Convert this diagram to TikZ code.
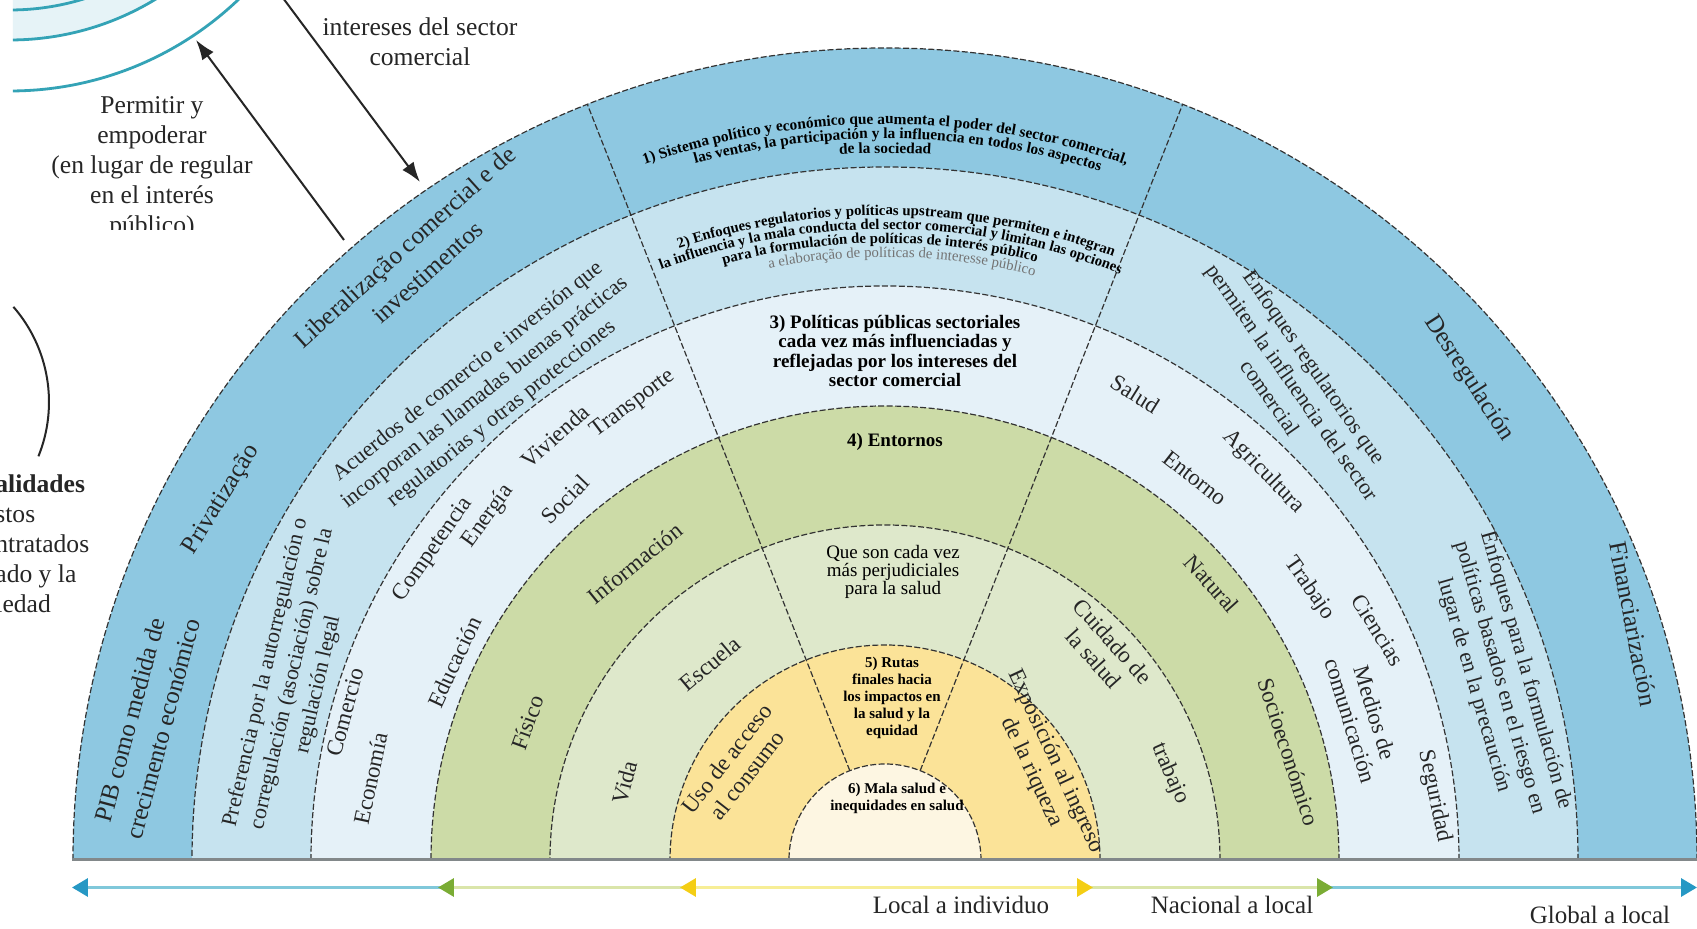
\documentclass[tikz,border=0pt]{standalone}
\usepackage{fontspec}
\setmainfont{Liberation Serif}
\usepackage{tikz}
\usetikzlibrary{arrows.meta,decorations.text}

\definecolor{ringA}{RGB}{142,200,225}
\definecolor{ringB}{RGB}{198,227,239}
\definecolor{ringC}{RGB}{229,241,248}
\definecolor{ringD}{RGB}{204,219,167}
\definecolor{ringE}{RGB}{222,232,203}
\definecolor{ringF}{RGB}{251,227,152}
\definecolor{ringG}{RGB}{253,246,226}
\definecolor{haloFill}{RGB}{230,243,247}
\definecolor{haloLine}{RGB}{52,163,182}
\definecolor{baseGray}{RGB}{130,136,138}
\definecolor{globalTip}{RGB}{38,152,196}
\definecolor{globalLine}{RGB}{128,200,218}
\definecolor{nationalTip}{RGB}{122,172,52}
\definecolor{nationalLine}{RGB}{218,229,170}
\definecolor{localTip}{RGB}{244,206,20}
\definecolor{localLine}{RGB}{247,238,150}

\tikzset{
    ring-line/.style = {draw=black!80, line width=0.6pt, dash pattern=on 3pt off 1.2pt},
    base-line/.style = {draw=baseGray, line width=1.5pt},
    halo-arc/.style = {draw=haloLine, line width=1.4pt},
    bracket-arc/.style = {draw=black!85, line width=1pt},
    push-arrow/.style = {draw=black!85, line width=1pt, -{Latex[length=10pt, width=7pt]}},
    outer-label/.style = {font=\fontsize{12.5}{17}\selectfont, align=center, inner sep=1pt, text=black!85},
    mid-label/.style = {font=\fontsize{11}{13.5}\selectfont, align=center, inner sep=1pt, text=black!85},
    ring-label/.style = {font=\fontsize{11.5}{13}\selectfont, align=center, inner sep=1pt, text=black!85},
    sector-title/.style = {font=\fontsize{9.5}{9.6}\selectfont\bfseries, align=center, inner sep=1pt},
    sector-note/.style = {font=\fontsize{9.5}{8.8}\selectfont, align=center, inner sep=1pt},
    sector-small/.style = {font=\fontsize{7.5}{8.5}\selectfont\bfseries, align=center, inner sep=1pt},
    side-text/.style = {font=\fontsize{12.8}{15}\selectfont, align=center, inner sep=0pt, text=black!85},
    scale-label/.style = {font=\fontsize{12.5}{14}\selectfont, inner sep=0pt, text=black!85},
    global-arrow/.style = {draw=globalLine, line width=1.6pt, {Triangle[length=8pt, width=9pt, color=globalTip]}-{Triangle[length=8pt, width=9pt, color=globalTip]}},
    national-arrow/.style = {draw=nationalLine, line width=1.6pt, {Triangle[length=8pt, width=9pt, color=nationalTip]}-{Triangle[length=8pt, width=9pt, color=nationalTip]}},
    local-arrow/.style = {draw=localLine, line width=1.6pt, {Triangle[length=8pt, width=9pt, color=localTip]}-{Triangle[length=8pt, width=9pt, color=localTip]}},
}

\begin{document}
\begin{tikzpicture}[x=0.5pt, y=0.5pt]
\clip (-885,-69) rectangle (812,860);
\fill[white] (-885,-69) rectangle (812,860);

% what is left of the neighbouring diagram
\begin{scope}
\clip (-872,300) rectangle (-500,860);
\fill[haloFill] (-875,1100) circle[radius=280];
\foreach \r in {250,280,331}
    \draw[halo-arc] (-875,1100) circle[radius=\r];
\end{scope}
\draw[bracket-arc] (-981,458) ++(41:145) arc[start angle=41, end angle=-22, radius=145];

% rings, outside in
\foreach \r/\c in {812/ringA,693/ringB,574/ringC,454/ringD,335/ringE,215/ringF,96/ringG}
    \fill[\c] (\r,0) arc[start angle=0, end angle=180, radius=\r] -- cycle;
\foreach \r in {96,215,335,454,574,693,812}
    \draw[ring-line] (\r,0) arc[start angle=0, end angle=180, radius=\r];
\draw[ring-line] (111.5:96) -- (111.5:812);
\draw[ring-line] (68.5:96) -- (68.5:812);
\draw[base-line] (-813,0) -- (812,0);

% middle sector, curved lines
\path[decorate, decoration={text along path, text align={center},
    text={|\fontsize{7.7}{8}\selectfont\bfseries|1) Sistema político y económico que aumenta el poder del sector comercial,}}]
    (130:736) arc[start angle=130, end angle=50, radius=736];
\path[decorate, decoration={text along path, text align={center},
    text={|\fontsize{7.7}{8}\selectfont\bfseries|las ventas, la participación y la influencia en todos los aspectos}}]
    (129:721.5) arc[start angle=129, end angle=49, radius=721.5];
\path[decorate, decoration={text along path, text align={center},
    text={|\fontsize{7.7}{8}\selectfont\bfseries|de la sociedad}}]
    (130:707) arc[start angle=130, end angle=50, radius=707];
\path[decorate, decoration={text along path, text align={center},
    text={|\fontsize{7.4}{8}\selectfont\bfseries|2) Enfoques regulatorios y políticas upstream que permiten e integran}}]
    (129:645) arc[start angle=129, end angle=49, radius=645];
\path[decorate, decoration={text along path, text align={center},
    text={|\fontsize{7.4}{8}\selectfont\bfseries|la influencia y la mala conducta del sector comercial y limitan las opciones}}]
    (129.5:631) arc[start angle=129.5, end angle=49.5, radius=631];
\path[decorate, decoration={text along path, text align={center},
    text={|\fontsize{7.4}{8}\selectfont\bfseries|para la formulación de políticas de interés público}}]
    (130.5:617) arc[start angle=130.5, end angle=50.5, radius=617];
\path[decorate, decoration={text along path, text align={center},
    text={|\fontsize{7.4}{8}\selectfont\color{black!55}|a elaboração de políticas de interesse público}}]
    (128.4:603) arc[start angle=128.4, end angle=48.4, radius=603];

% middle sector, straight lines
\node[sector-title] (policies) at (10,509) {3) Políticas públicas sectoriales\\cada vez más influenciadas y\\reflejadas por los intereses del\\sector comercial};
\node[sector-title] (settings) at (10,418) {4) Entornos};
\node[sector-note] (harmful) at (8,288) {Que son cada vez\\más perjudiciales\\para la salud};
\node[sector-small] (pathways) at (7,162) {5) Rutas\\finales hacia\\los impactos en\\la salud y la\\equidad};
\node[sector-small] (outcomes) at (12,62) {6) Mala salud e\\inequidades en salud};

% outer ring
\node[outer-label, rotate=75] (pib) at (169.6:751) {PIB como medida de\\crecimento económico};
\node[outer-label, rotate=58] (privatizacao) at (151.5:755) {Privatização};
\node[outer-label, rotate=42] (liberalizacao) at (128:762) {Liberalização comercial e de\\investimentos};
\node[outer-label, rotate=-57] (desregulacion) at (39.5:757) {Desregulación};
\node[outer-label, rotate=-79] (financiarizacion) at (17.5:785) {Financiarización};

% second ring
\node[mid-label, rotate=77] (preferencia) at (163:620) {Preferencia por la autorregulación o\\corregulación (asociación) sobre la\\regulación legal};
\node[mid-label, rotate=38.5] (acuerdos) at (130.6:615) {Acuerdos de comercio e inversión que\\incorporan las llamadas buenas prácticas\\regulatorias y otras protecciones};
\node[mid-label, rotate=-55] (enfoques-reg) at (49.5:628) {Enfoques regulatorios que\\permiten la influencia del sector\\comercial};
\node[mid-label, rotate=-74] (enfoques-prec) at (16.5:641) {Enfoques para la formulación de\\políticas basados en el riesgo en\\lugar de en la precaución};

% third ring
\node[ring-label, rotate=78] (economia) at (171:521) {Economía};
\node[ring-label, rotate=75] (comercio) at (164.7:560) {Comercio};
\node[ring-label, rotate=65] (educacion) at (155.3:474) {Educación};
\node[ring-label, rotate=55] (competencia) at (145.5:548) {Competencia};
\node[ring-label, rotate=54] (energia) at (139.1:525) {Energía};
\node[ring-label, rotate=46] (social) at (131.6:482) {Social};
\node[ring-label, rotate=42] (vivienda) at (127.9:537) {Vivienda};
\node[ring-label, rotate=37] (transporte) at (118.9:521) {Transporte};
\node[ring-label, rotate=-32] (salud) at (61.8:529) {Salud};
\node[ring-label, rotate=-38] (entorno) at (50.9:492) {Entorno};
\node[ring-label, rotate=-46] (agricultura) at (45.7:542) {Agricultura};
\node[ring-label, rotate=-55] (trabajo-sector) at (32.6:504) {Trabajo};
\node[ring-label, rotate=-58] (ciencias) at (25:544) {Ciencias};
\node[ring-label, rotate=-73] (medios) at (16.7:499) {Medios de\\comunicación};
\node[ring-label, rotate=-78] (seguridad) at (6.6:553) {Seguridad};

% fourth ring
\node[ring-label, rotate=70] (fisico) at (159:383) {Físico};
\node[ring-label, rotate=39] (informacion) at (130.1:388) {Información};
\node[ring-label, rotate=-48] (natural) at (40.2:428) {Natural};
\node[ring-label, rotate=-72] (socioeconomico) at (15:418) {Socioeconómico};

% fifth ring
\node[ring-label, rotate=75] (vida) at (163.4:272) {Vida};
\node[ring-label, rotate=40] (escuela) at (131.7:263) {Escuela};
\node[ring-label, rotate=-48] (cuidado) at (43.9:303) {Cuidado de\\la salud};
\node[ring-label, rotate=-66] (trabajo-daily) at (16.9:298) {trabajo};

% sixth ring
\node[ring-label, rotate=52] (consumo) at (147.8:175) {Uso de acceso\\al consumo};
\node[ring-label, rotate=-65] (exposicion) at (30.5:184) {Exposición al ingreso\\de la riqueza};

% notes on the left
\node[side-text] (interests) at (-465,818.5) {intereses del sector\\comercial};
\begin{scope}
\clip (-885,630) rectangle (-500,860);
\node[side-text] (enable-note) at (-733,692.5) {Permitir y\\empoderar\\(en lugar de regular\\en el interés\\público)};
\end{scope}
\node[side-text, anchor=west, align=left] (externality-note) at (-890,316) {\textbf{alidades}\\stos\\ntratados\\ado y la\\iedad};

\coordinate (promote-start) at (-605,866);
\coordinate (promote-end) at (-465,678);
\draw[push-arrow] (promote-start) -- (promote-end);
\coordinate (enable-start) at (-541,620);
\coordinate (enable-end) at (-689,820);
\draw[push-arrow] (enable-start) -- (enable-end);

% scale of action
\coordinate (global-left) at (-813,-27.5);
\coordinate (global-right) at (812,-27.5);
\coordinate (national-left) at (-447,-27.5);
\coordinate (national-right) at (448,-27.5);
\coordinate (local-left) at (-205,-27.5);
\coordinate (local-right) at (208,-27.5);
\draw[global-arrow] (global-left) -- (global-right);
\draw[national-arrow] (national-left) -- (national-right);
\draw[local-arrow] (local-left) -- (local-right);
\node[scale-label] (local-text) at (76,-45) {Local a individuo};
\node[scale-label] (national-text) at (347,-45) {Nacional a local};
\node[scale-label] (global-text) at (715,-55) {Global a local};
\end{tikzpicture}
\end{document}
